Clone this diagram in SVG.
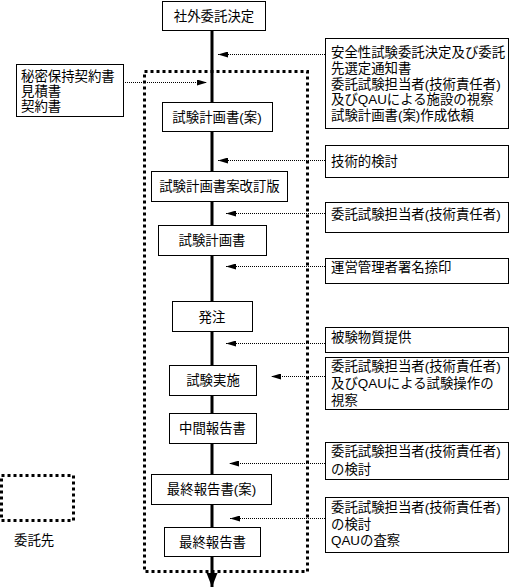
<svg xmlns="http://www.w3.org/2000/svg" width="510" height="587" viewBox="0 0 510 587">
<defs>
<style>
.box{fill:#fff;stroke:#000;stroke-width:1}
.t{font-family:"Liberation Sans","Noto Sans CJK JP","Noto Sans CJK SC",sans-serif;font-size:13.4px;fill:#000}
.c{text-anchor:middle}
.dot{fill:none;stroke:#000;stroke-width:1;stroke-dasharray:1 1}
.area{fill:none;stroke:#000;stroke-width:3;stroke-dasharray:3 3}
.main{stroke:#000;stroke-width:3;fill:none}
</style>
<marker id="ah" viewBox="0 0 10 6" refX="10" refY="3" markerWidth="10" markerHeight="6" markerUnits="userSpaceOnUse" orient="auto">
<path d="M0,0 L10,3 L0,6 Z" fill="#000"/>
</marker>
<marker id="ahb" viewBox="0 0 14 12" refX="14" refY="6" markerWidth="14" markerHeight="12" markerUnits="userSpaceOnUse" orient="auto">
<path d="M0,0.5 L14,6 L0,11.5 Z" fill="#000"/>
</marker>
</defs>
<rect width="510" height="587" fill="#fff"/>

<g id="area">
<rect class="area" x="144.5" y="71.5" width="163" height="500"/>
</g>

<g id="connectors">
<line class="main" x1="212" y1="30" x2="212" y2="587" marker-end="url(#ahb)"/>
<line class="dot" x1="325" y1="54.5" x2="218" y2="54.5" marker-end="url(#ah)"/>
<line class="dot" x1="123" y1="82.5" x2="207" y2="82.5" marker-end="url(#ah)"/>
<line class="dot" x1="325" y1="160.5" x2="218" y2="160.5" marker-end="url(#ah)"/>
<line class="dot" x1="325" y1="213.5" x2="226" y2="213.5" marker-end="url(#ah)"/>
<line class="dot" x1="325" y1="266.5" x2="226" y2="266.5" marker-end="url(#ah)"/>
<line class="dot" x1="325" y1="343.5" x2="226" y2="343.5" marker-end="url(#ah)"/>
<line class="dot" x1="325" y1="376.5" x2="271" y2="376.5" marker-end="url(#ah)"/>
<line class="dot" x1="325" y1="463.5" x2="229" y2="463.5" marker-end="url(#ah)"/>
<line class="dot" x1="325" y1="518.5" x2="230" y2="518.5" marker-end="url(#ah)"/>
</g>

<g id="n1"><rect class="box" x="162.5" y="1.5" width="103" height="29"/><text class="t c" x="214" y="21">社外委託決定</text></g>
<g id="n2"><rect class="box" x="162.5" y="102.5" width="110" height="29"/><text class="t c" x="217" y="122">試験計画書(案)</text></g>
<g id="n3"><rect class="box" x="151.5" y="171.5" width="136" height="30"/><text class="t c" x="219.5" y="191">試験計画書案改訂版</text></g>
<g id="n4"><rect class="box" x="158.5" y="225.5" width="108" height="30"/><text class="t c" x="212" y="245">試験計画書</text></g>
<g id="n5"><rect class="box" x="172.5" y="301.5" width="80" height="30"/><text class="t c" x="212" y="321.5">発注</text></g>
<g id="n6"><rect class="box" x="169.5" y="365.5" width="87" height="30"/><text class="t c" x="213" y="385">試験実施</text></g>
<g id="n7"><rect class="box" x="169.5" y="413.5" width="87" height="30"/><text class="t c" x="212.5" y="433">中間報告書</text></g>
<g id="n8"><rect class="box" x="151.5" y="474.5" width="120" height="30"/><text class="t c" x="211.5" y="494">最終報告書(案)</text></g>
<g id="n9"><rect class="box" x="164.5" y="527.5" width="96" height="29"/><text class="t c" x="212.5" y="547">最終報告書</text></g>

<g id="left"><rect class="box" x="16.5" y="64.5" width="107" height="52"/>
<text class="t" x="21" y="81">秘密保持契約書</text>
<text class="t" x="21" y="96">見積書</text>
<text class="t" x="21" y="111">契約書</text></g>

<g id="r1"><rect class="box" x="325.5" y="38.5" width="183" height="90"/>
<text class="t" x="331" y="57">安全性試験委託決定及び委託</text>
<text class="t" x="331" y="72.5">先選定通知書</text>
<text class="t" x="331" y="88.5">委託試験担当者(技術責任者)</text>
<text class="t" x="331" y="104">及びQAUによる施設の視察</text>
<text class="t" x="331" y="120">試験計画書(案)作成依頼</text></g>
<g id="r2"><rect class="box" x="325.5" y="145.5" width="183" height="32"/><text class="t" x="331" y="166">技術的検討</text></g>
<g id="r3"><rect class="box" x="325.5" y="202.5" width="183" height="30"/><text class="t" x="331" y="219">委託試験担当者(技術責任者)</text></g>
<g id="r4"><rect class="box" x="325.5" y="258.5" width="183" height="25"/><text class="t" x="331" y="272">運営管理者署名捺印</text></g>
<g id="r5"><rect class="box" x="325.5" y="327.5" width="183" height="25"/><text class="t" x="331" y="342">被験物質提供</text></g>
<g id="r6"><rect class="box" x="325.5" y="357.5" width="183" height="52"/>
<text class="t" x="331" y="371">委託試験担当者(技術責任者)</text>
<text class="t" x="331" y="388">及びQAUによる試験操作の</text>
<text class="t" x="331" y="405">視察</text></g>
<g id="r7"><rect class="box" x="325.5" y="442.5" width="183" height="37"/>
<text class="t" x="331" y="456">委託試験担当者(技術責任者)</text>
<text class="t" x="331" y="474">の検討</text></g>
<g id="r8"><rect class="box" x="325.5" y="497.5" width="183" height="55"/>
<text class="t" x="331" y="512">委託試験担当者(技術責任者)</text>
<text class="t" x="331" y="529">の検討</text>
<text class="t" x="331" y="545">QAUの査察</text></g>

<g id="legend">
<rect class="area" x="1.5" y="475.5" width="72" height="45"/>
<text class="t" x="14" y="545">委託先</text>
</g>
</svg>
